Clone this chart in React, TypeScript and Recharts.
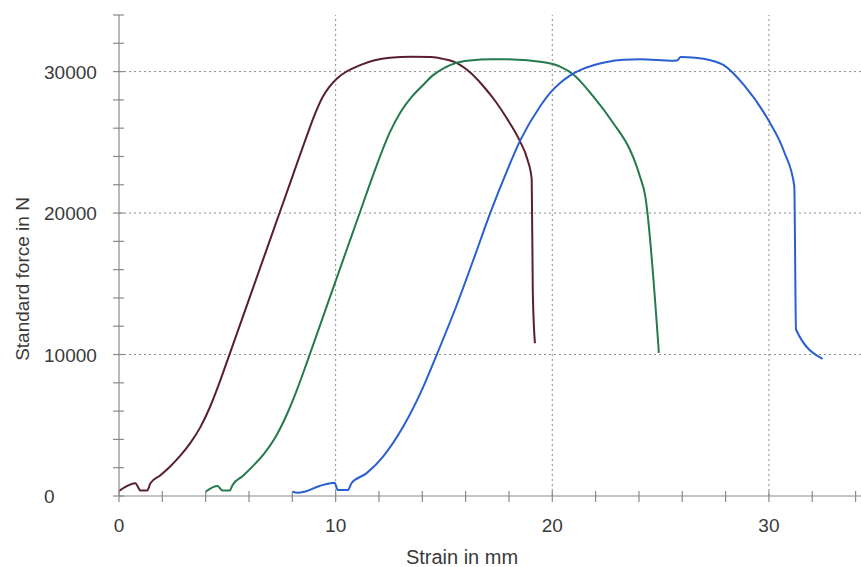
import React from "react";
import { LineChart, Line, XAxis, YAxis, ReferenceLine } from "recharts";

const redX = [0, 0.75, 1.0, 1.3, 1.45, 1.9, 2.35, 2.8, 3.28, 3.75, 4.2, 4.6, 5.0, 6.0, 7.0, 7.43, 8.0, 8.6, 9.1, 9.4, 9.7, 10.05, 10.5, 11.1, 11.8, 12.5, 13.5, 14.4, 15.0, 15.6, 16.2, 16.8, 17.4, 17.9, 18.5, 18.85, 19.05, 19.1, 19.2];
const redY = [350, 900, 380, 380, 900, 1450, 2070, 2800, 3720, 4850, 6290, 7850, 9570, 13900, 18230, 20090, 22560, 25160, 27200, 28200, 28900, 29500, 30000, 30440, 30800, 30980, 31050, 31030, 30880, 30600, 29950, 29000, 27850, 26700, 25100, 23800, 22400, 14500, 10800];

const greenX = [4.0, 4.55, 4.78, 5.1, 5.25, 5.7, 6.2, 6.7, 7.2, 7.7, 8.2, 8.7, 9.7, 10.7, 11.13, 11.7, 12.5, 13.0, 13.5, 14.0, 14.5, 15.0, 15.5, 16.2, 17.2, 18.2, 19.44, 20.36, 20.97, 21.9, 22.82, 23.59, 23.85, 24.05, 24.28, 24.92];
const greenY = [300, 700, 380, 380, 800, 1400, 2150, 3000, 4100, 5600, 7450, 9550, 13900, 18230, 20090, 22560, 25700, 27150, 28200, 29000, 29750, 30250, 30580, 30780, 30870, 30860, 30700, 30350, 29800, 28230, 26350, 24460, 23500, 22570, 21300, 10120];

const blueX = [8.0, 8.26, 8.56, 9.26, 9.95, 10.1, 10.57, 10.73, 11.42, 12.19, 13.12, 14.04, 14.67, 15.59, 16.36, 17.13, 17.9, 18.51, 19.44, 19.9, 20.36, 20.8, 21.28, 21.9, 22.52, 23.3, 24.05, 25.6, 25.75, 25.93, 26.6, 27.3, 27.93, 28.86, 29.94, 30.71, 31.17, 31.25, 32.48];
const blueY = [300, 230, 300, 710, 940, 425, 425, 900, 1600, 2790, 4910, 7700, 10000, 13500, 16700, 19980, 22950, 25100, 27550, 28500, 29200, 29700, 30100, 30450, 30680, 30830, 30870, 30770, 30780, 31030, 30980, 30800, 30440, 29020, 26660, 24300, 21930, 11770, 9690];

const xTicks = [0, 2, 4, 6, 8, 10, 12, 14, 16, 18, 20, 22, 24, 26, 28, 30, 32, 34];
const yTicks = [0, 2000, 4000, 6000, 8000, 10000, 12000, 14000, 16000, 18000, 20000, 22000, 24000, 26000, 28000, 30000, 32000, 34000];
const xGrid = [10, 20, 30];
const yGrid = [10000, 20000, 30000];

const zip = (xs: number[], ys: number[]) => xs.map((x, i) => ({ x, y: ys[i] }));
const redData = zip(redX, redY);
const greenData = zip(greenX, greenY);
const blueData = zip(blueX, blueY);

const FONT = "'Liberation Sans', Arial, Helvetica, sans-serif";
const AXIS = "#8a8a8a";
const TEXT = "#3a3a3a";

const XTick = (props: any) => {
  const { x, y, payload } = props;
  const v = payload.value;
  return (
    <g>
      <line x1={x} x2={x} y1={y - 5} y2={y + 6} stroke={AXIS} strokeWidth={1.2} />
      {v % 10 === 0 && (
        <text x={x} y={y + 36} textAnchor="middle" fontSize={19} fill={TEXT} fontFamily={FONT}>
          {v}
        </text>
      )}
    </g>
  );
};

const YTick = (props: any) => {
  const { x, y, payload } = props;
  const v = payload.value;
  return (
    <g>
      <line x1={x - 6} x2={x + 5} y1={y} y2={y} stroke={AXIS} strokeWidth={1.2} />
      {v % 10000 === 0 && (
        <text x={44} y={y + 7} textAnchor="start" fontSize={19} fill={TEXT} fontFamily={FONT}>
          {v}
        </text>
      )}
    </g>
  );
};

export default function App() {
  return (
    <div style={{ position: "absolute", left: 0, top: 0, width: 861, height: 567, background: "#fff" }}>
      <LineChart width={861} height={567} margin={{ top: 15, right: 0, bottom: 0, left: 0 }}>
        {xGrid.map((v) => (
          <ReferenceLine key={"vx" + v} x={v} stroke="#8c8c8c" strokeDasharray="2 3" strokeWidth={1} />
        ))}
        {yGrid.map((v) => (
          <ReferenceLine key={"hy" + v} y={v} stroke="#8c8c8c" strokeDasharray="2 3" strokeWidth={1} />
        ))}
        <XAxis
          type="number"
          dataKey="x"
          domain={[0, 34.25]}
          ticks={xTicks}
          allowDataOverflow
          height={71}
          tickSize={0}
          tickMargin={0}
          tickLine={false}
          axisLine={{ stroke: AXIS, strokeWidth: 1.2 }}
          tick={<XTick />}
          interval={0}
        />
        <YAxis
          type="number"
          dataKey="y"
          domain={[0, 34000]}
          ticks={yTicks}
          allowDataOverflow
          width={119}
          tickSize={0}
          tickMargin={0}
          tickLine={false}
          axisLine={{ stroke: AXIS, strokeWidth: 1.2 }}
          tick={<YTick />}
          interval={0}
        />
        <Line data={redData} dataKey="y" type="monotone" stroke="#5a1f2d" strokeWidth={2} dot={false} isAnimationActive={false} />
        <Line data={greenData} dataKey="y" type="monotone" stroke="#247a4c" strokeWidth={2} dot={false} isAnimationActive={false} />
        <Line data={blueData} dataKey="y" type="monotone" stroke="#2a5fd0" strokeWidth={2} dot={false} isAnimationActive={false} />
        <text x={462} y={564} textAnchor="middle" fontSize={20} fill={TEXT} fontFamily={FONT}>
          Strain in mm
        </text>
        <text
          x={29}
          y={279}
          textAnchor="middle"
          fontSize={19}
          fill={TEXT}
          fontFamily={FONT}
          transform="rotate(-90 29 279)"
        >
          Standard force in N
        </text>
      </LineChart>
    </div>
  );
}
